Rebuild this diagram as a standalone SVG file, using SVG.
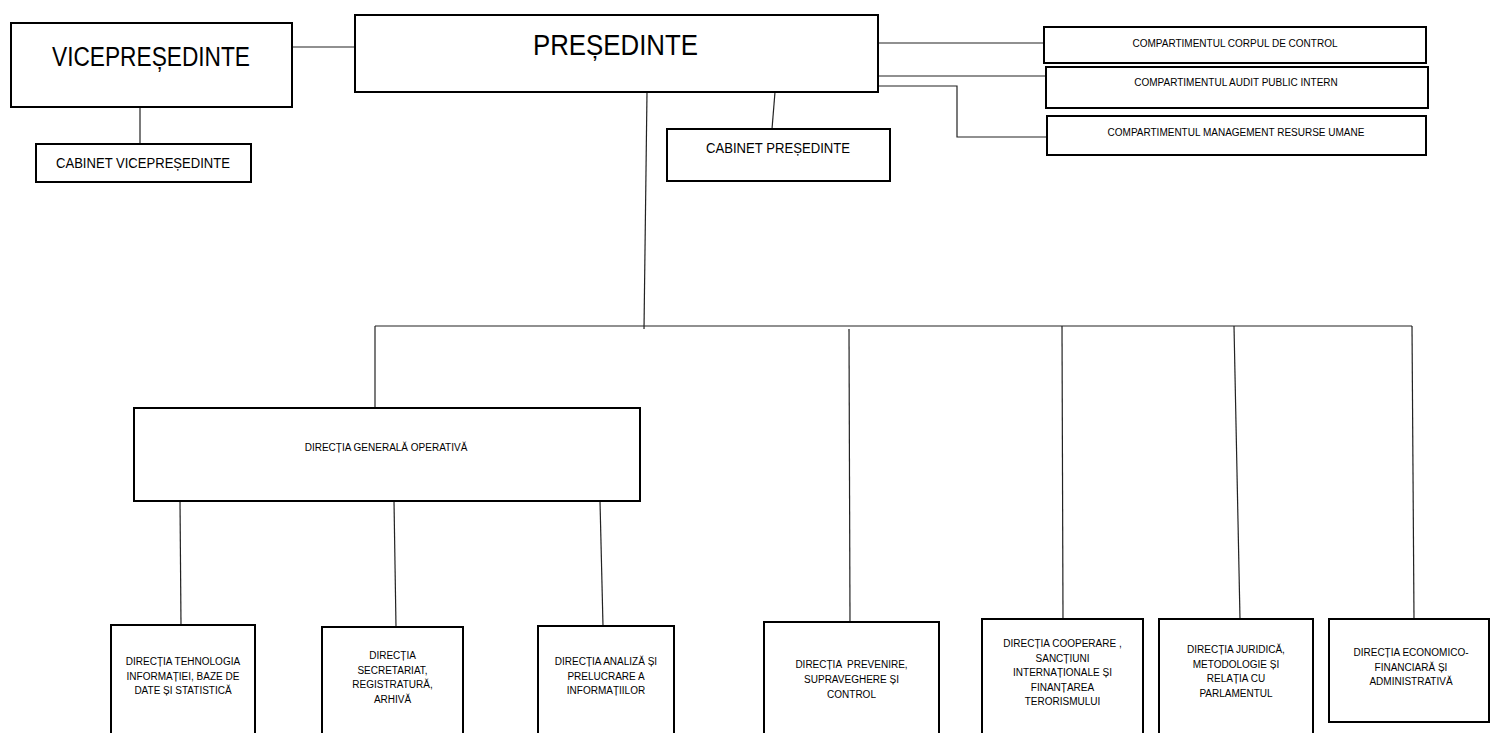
<svg xmlns="http://www.w3.org/2000/svg" width="1491" height="733" viewBox="0 0 1491 733">
<style>
rect.box{fill:#fff;stroke:#000;stroke-width:2}
#connectors line,#connectors polyline{stroke:#222;stroke-width:1.2;fill:none}
text{font-family:"Liberation Sans",Arial,sans-serif;fill:#000}
.s{font-size:10px;text-anchor:middle}
</style>
<rect width="1491" height="733" fill="#fff"/>
<g id="connectors">
<line x1="292" y1="47" x2="355" y2="47"/>
<line x1="140" y1="107" x2="140" y2="144"/>
<line x1="775" y1="92" x2="772" y2="129"/>
<line x1="878" y1="43" x2="1044" y2="43"/>
<line x1="878" y1="76" x2="1046" y2="76"/>
<polyline points="878,86 957,86 957,137 1047,137"/>
<line x1="647" y1="92" x2="644" y2="329"/>
<line x1="375" y1="326" x2="1412" y2="326"/>
<line x1="375" y1="326" x2="375" y2="408"/>
<line x1="849" y1="329" x2="850" y2="622"/>
<line x1="1062" y1="326" x2="1063" y2="619"/>
<line x1="1234" y1="326" x2="1240" y2="619"/>
<line x1="1412" y1="326" x2="1414" y2="619"/>
<line x1="180" y1="501" x2="181" y2="625"/>
<line x1="394" y1="501" x2="396" y2="627"/>
<line x1="600" y1="501" x2="603" y2="626"/>
</g>
<g id="vicepresedinte">
<rect class="box" x="11" y="23" width="281" height="84"/>
<text x="52" y="66" font-size="27" textLength="198" lengthAdjust="spacingAndGlyphs">VICEPREȘEDINTE</text>
</g>
<g id="presedinte">
<rect class="box" x="355" y="15" width="523" height="77"/>
<text x="533" y="55" font-size="30" textLength="165" lengthAdjust="spacingAndGlyphs">PREȘEDINTE</text>
</g>
<g id="cabinet-vicepresedinte">
<rect class="box" x="36" y="144" width="215" height="38"/>
<text x="56" y="168" font-size="15" textLength="174" lengthAdjust="spacingAndGlyphs">CABINET VICEPREȘEDINTE</text>
</g>
<g id="cabinet-presedinte">
<rect class="box" x="667" y="129" width="223" height="52"/>
<text x="706" y="153" font-size="14" textLength="144" lengthAdjust="spacingAndGlyphs">CABINET PREȘEDINTE</text>
</g>
<g id="corpul-control">
<rect class="box" x="1044" y="27" width="382" height="36"/>
<text class="s" x="1235" y="47">COMPARTIMENTUL CORPUL DE CONTROL</text>
</g>
<g id="audit">
<rect class="box" x="1046" y="67" width="382" height="41"/>
<text class="s" x="1236" y="86">COMPARTIMENTUL AUDIT PUBLIC INTERN</text>
</g>
<g id="resurse-umane">
<rect class="box" x="1047" y="116" width="379" height="39"/>
<text class="s" x="1236" y="136">COMPARTIMENTUL MANAGEMENT RESURSE UMANE</text>
</g>
<g id="dgo">
<rect class="box" x="134" y="408" width="506" height="93"/>
<text class="s" x="386" y="451">DIRECȚIA GENERALĂ OPERATIVĂ</text>
</g>
<g id="d-tehnologia">
<rect class="box" x="111" y="625" width="144" height="120"/>
<text class="s" x="183" y="665">DIRECȚIA TEHNOLOGIA</text>
<text class="s" x="183" y="679.5">INFORMAȚIEI, BAZE DE</text>
<text class="s" x="183" y="694">DATE ȘI STATISTICĂ</text>
</g>
<g id="d-secretariat">
<rect class="box" x="322" y="627" width="141" height="120"/>
<text class="s" x="392.5" y="659">DIRECȚIA</text>
<text class="s" x="392.5" y="673.5">SECRETARIAT,</text>
<text class="s" x="392.5" y="688">REGISTRATURĂ,</text>
<text class="s" x="392.5" y="702.5">ARHIVĂ</text>
</g>
<g id="d-analiza">
<rect class="box" x="538" y="626" width="136" height="120"/>
<text class="s" x="606" y="665">DIRECȚIA ANALIZĂ ȘI</text>
<text class="s" x="606" y="679.5">PRELUCRARE A</text>
<text class="s" x="606" y="694">INFORMAȚIILOR</text>
</g>
<g id="d-prevenire">
<rect class="box" x="764" y="622" width="175" height="120"/>
<text class="s" x="851.5" y="668" xml:space="preserve">DIRECȚIA  PREVENIRE,</text>
<text class="s" x="851.5" y="683">SUPRAVEGHERE ȘI</text>
<text class="s" x="851.5" y="698">CONTROL</text>
</g>
<g id="d-cooperare">
<rect class="box" x="982" y="619" width="161" height="120"/>
<text class="s" x="1062.5" y="647">DIRECȚIA COOPERARE ,</text>
<text class="s" x="1062.5" y="661.5">SANCȚIUNI</text>
<text class="s" x="1062.5" y="676">INTERNAȚIONALE ȘI</text>
<text class="s" x="1062.5" y="690.5">FINANȚAREA</text>
<text class="s" x="1062.5" y="705">TERORISMULUI</text>
</g>
<g id="d-juridica">
<rect class="box" x="1159" y="619" width="154" height="120"/>
<text class="s" x="1236" y="653">DIRECȚIA JURIDICĂ,</text>
<text class="s" x="1236" y="667.5">METODOLOGIE ȘI</text>
<text class="s" x="1236" y="682">RELAȚIA CU</text>
<text class="s" x="1236" y="696.5">PARLAMENTUL</text>
</g>
<g id="d-economico">
<rect class="box" x="1329" y="619" width="160" height="103"/>
<text class="s" x="1411" y="656">DIRECȚIA ECONOMICO-</text>
<text class="s" x="1411" y="670.5">FINANCIARĂ ȘI</text>
<text class="s" x="1411" y="685">ADMINISTRATIVĂ</text>
</g>
</svg>
